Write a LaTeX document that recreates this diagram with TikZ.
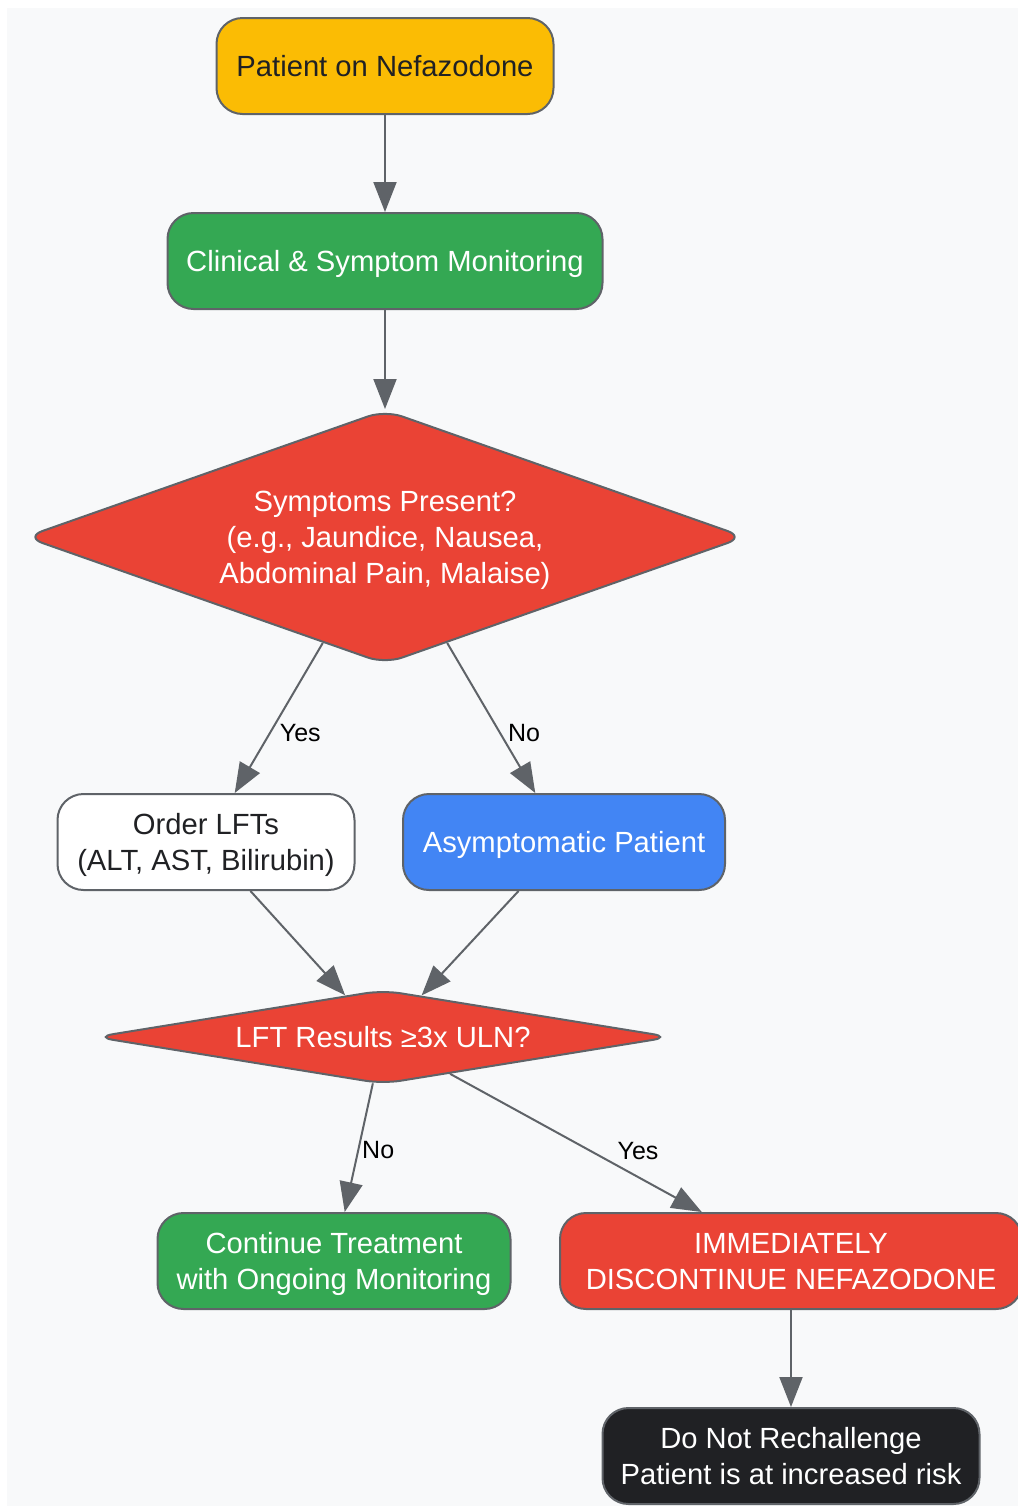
\documentclass[tikz,border=0pt]{standalone}
\usepackage{fontspec}
\setmainfont{Liberation Sans}
\usetikzlibrary{shapes.geometric, arrows.meta}

\definecolor{bggray}{HTML}{F8F9FA}
\definecolor{edgegray}{HTML}{5F6368}
\definecolor{gyellow}{HTML}{FBBC04}
\definecolor{ggreen}{HTML}{34A853}
\definecolor{gred}{HTML}{EA4335}
\definecolor{gblue}{HTML}{4285F4}
\definecolor{gdark}{HTML}{202124}

\begin{document}
\begin{tikzpicture}[x=0.5pt, y=-0.5pt,
box/.style={draw=edgegray, line width=1pt, rounded corners=13pt,
minimum height=48pt, inner sep=0pt, align=center,
font=\fontsize{14.6}{18}\selectfont, text height=10.1pt, text depth=0pt},
twolines/.style={text height=28.1pt},
decide/.style={diamond, draw=edgegray, line width=1pt, rounded corners=9pt,
inner sep=0pt, align=center, fill=gred, text=white,
font=\fontsize{14.6}{18}\selectfont, text height=10.1pt, text depth=0pt},
flow/.style={draw=edgegray, line width=1pt, -{Triangle[length=15pt,width=11.5pt]}},
lbl/.style={font=\fontsize{12.5}{14}\selectfont, text=black, inner sep=1.5pt}]

\useasboundingbox (0,0) rectangle (1018,1506);
\fill[bggray] (7,8) rectangle (1018,1506);

% nodes
\node[box, fill=gyellow, text=gdark, minimum width=168.5pt] (start) at (385,66)
{Patient on Nefazodone};
\node[box, fill=ggreen, text=white, minimum width=217.5pt] (monitor) at (385,261)
{Clinical \& Symptom Monitoring};
\node[decide, shape aspect=2.85, text height=46.1pt,
minimum width=360pt, minimum height=127pt] (symptoms) at (385,537)
{Symptoms Present?\\(e.g., Jaundice, Nausea,\\Abdominal Pain, Malaise)};
\node[box, twolines, fill=white, text=gdark, minimum width=148.5pt] (order) at (206,842)
{Order LFTs\\(ALT, AST, Bilirubin)};
\node[box, fill=gblue, text=white, minimum width=161pt] (asym) at (564,842)
{Asymptomatic Patient};
\node[decide, shape aspect=6.18,
minimum width=288pt, minimum height=47pt] (results) at (383,1037)
{LFT Results ≥3x ULN?};
\node[box, twolines, fill=ggreen, text=white, minimum width=176.5pt] (continue) at (334,1261)
{Continue Treatment\\with Ongoing Monitoring};
\node[box, twolines, fill=gred, text=white, minimum width=231pt] (stop) at (791,1261)
{IMMEDIATELY\\DISCONTINUE NEFAZODONE};
\node[box, twolines, fill=gdark, text=white, minimum width=188.5pt] (norechallenge) at (791,1456)
{Do Not Rechallenge\\Patient is at increased risk};

% connectors
\draw[flow] (start) -- (monitor);
\draw[flow] (monitor) -- (symptoms);
\draw[flow] (symptoms) -- node[lbl, pos=0.6, anchor=west, xshift=3pt] {Yes} (order);
\draw[flow] (symptoms) -- node[lbl, pos=0.6, anchor=west, xshift=2pt] {No} (asym);
\draw[flow] (order) -- (results);
\draw[flow] (asym) -- (results);
\draw[flow] (results) -- node[lbl, pos=0.52, anchor=west] {No} (continue);
\draw[flow] (results) -- node[lbl, pos=0.65, anchor=south west] {Yes} (stop);
\draw[flow] (stop) -- (norechallenge);

\end{tikzpicture}
\end{document}
